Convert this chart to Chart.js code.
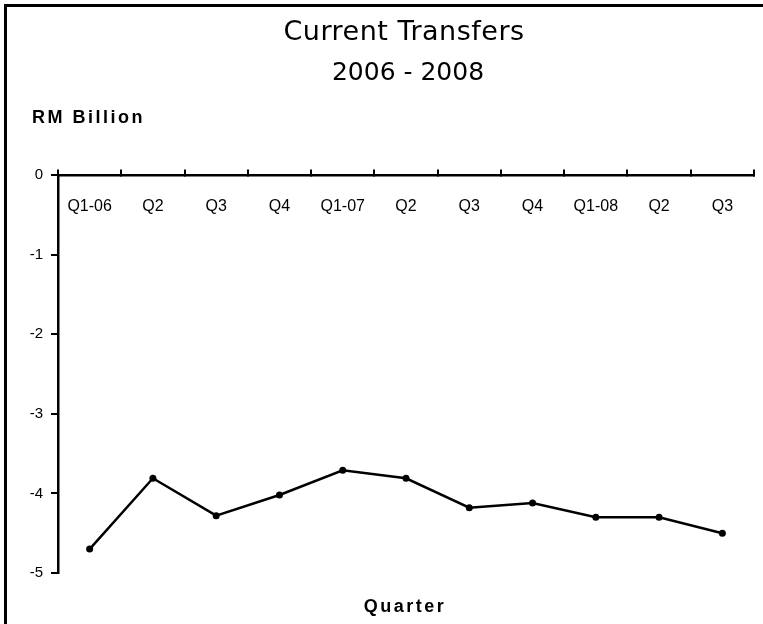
<!DOCTYPE html>
<html>
<head>
<meta charset="utf-8">
<script src="https://cdn.jsdelivr.net/npm/chart.js@4/dist/chart.umd.min.js"></script>
<style>
  html, body { margin: 0; padding: 0; background: #fff; }
  #wrap { position: relative; width: 763px; height: 624px; }
</style>
</head>
<body>
<div id="wrap"><canvas id="transfersChart"></canvas></div>
<script>
// Dados (RM bilhões, trimestral)
const quarters = ['Q1-06', 'Q2', 'Q3', 'Q4', 'Q1-07', 'Q2', 'Q3', 'Q4', 'Q1-08', 'Q2', 'Q3'];
const transfers = [-4.70, -3.81, -4.28, -4.02, -3.71, -3.81, -4.18, -4.12, -4.30, -4.30, -4.50];
const yTicks = [0, -1, -2, -3, -4, -5];

// textos e moldura desenhados por cima
const textPlugin = {
    id: 'texts',
    afterDraw(chart) {
        const c = chart.ctx;
        c.save();
        c.fillStyle = '#000';
        c.fillRect(4, 4, 3, 620);
        c.fillRect(4, 4, 759, 3);

        c.textAlign = 'center';
        c.textBaseline = 'middle';
        c.font = '27px "DejaVu Sans"';
        c.letterSpacing = '0.5px';
        c.fillText('Current Transfers', 404, 33);
        c.font = '25px "DejaVu Sans"';
        c.letterSpacing = '0px';
        c.fillText('2006 - 2008', 408, 73);

        c.font = 'bold 18px "Liberation Sans"';
        c.letterSpacing = '2.5px';
        c.textAlign = 'left';
        c.fillText('RM Billion', 32, 118);
        c.textAlign = 'center';
        c.fillText('Quarter', 405, 607);
        c.restore();
    }
};

const ctx = document.getElementById('transfersChart').getContext('2d');
new Chart(ctx, {
    type: 'line',
    data: {
        labels: quarters,
        datasets: [{
            data: transfers,
            borderColor: '#000',
            backgroundColor: '#000',
            borderWidth: 2.5,
            pointRadius: 3.5,
            pointBackgroundColor: '#000',
            pointBorderWidth: 0,
            tension: 0
        }]
    },
    options: {
        responsive: true,
        maintainAspectRatio: false,
        animation: false,
        layout: { padding: { left: 8, top: 175, right: 9, bottom: 51 } },
        plugins: {
            legend: { display: false },
            tooltip: { enabled: false }
        },
        scales: {
            x: {
                type: 'category',
                position: { y: 0 },
                offset: true,
                border: { display: true, color: '#000', width: 2.5 },
                grid: {
                    offset: true,
                    drawOnChartArea: false,
                    drawTicks: true,
                    tickLength: -7,
                    color: '#000',
                    lineWidth: 2
                },
                ticks: {
                    color: '#000',
                    font: { family: '"Liberation Sans"', size: 16 },
                    padding: 29,
                    maxRotation: 0,
                    autoSkip: false
                }
            },
            y: {
                min: -5,
                max: 0,
                afterFit(scale) { scale.width = 50; },
                afterBuildTicks(scale) { scale.ticks = yTicks.map(v => ({ value: v })); },
                border: { display: true, color: '#000', width: 2.5 },
                grid: {
                    drawOnChartArea: false,
                    drawTicks: true,
                    tickLength: 7,
                    color: '#000',
                    lineWidth: 2
                },
                ticks: {
                    color: '#000',
                    font: { family: '"Liberation Sans"', size: 15 },
                    padding: 8
                }
            }
        }
    },
    plugins: [textPlugin]
});
</script>
</body>
</html>
